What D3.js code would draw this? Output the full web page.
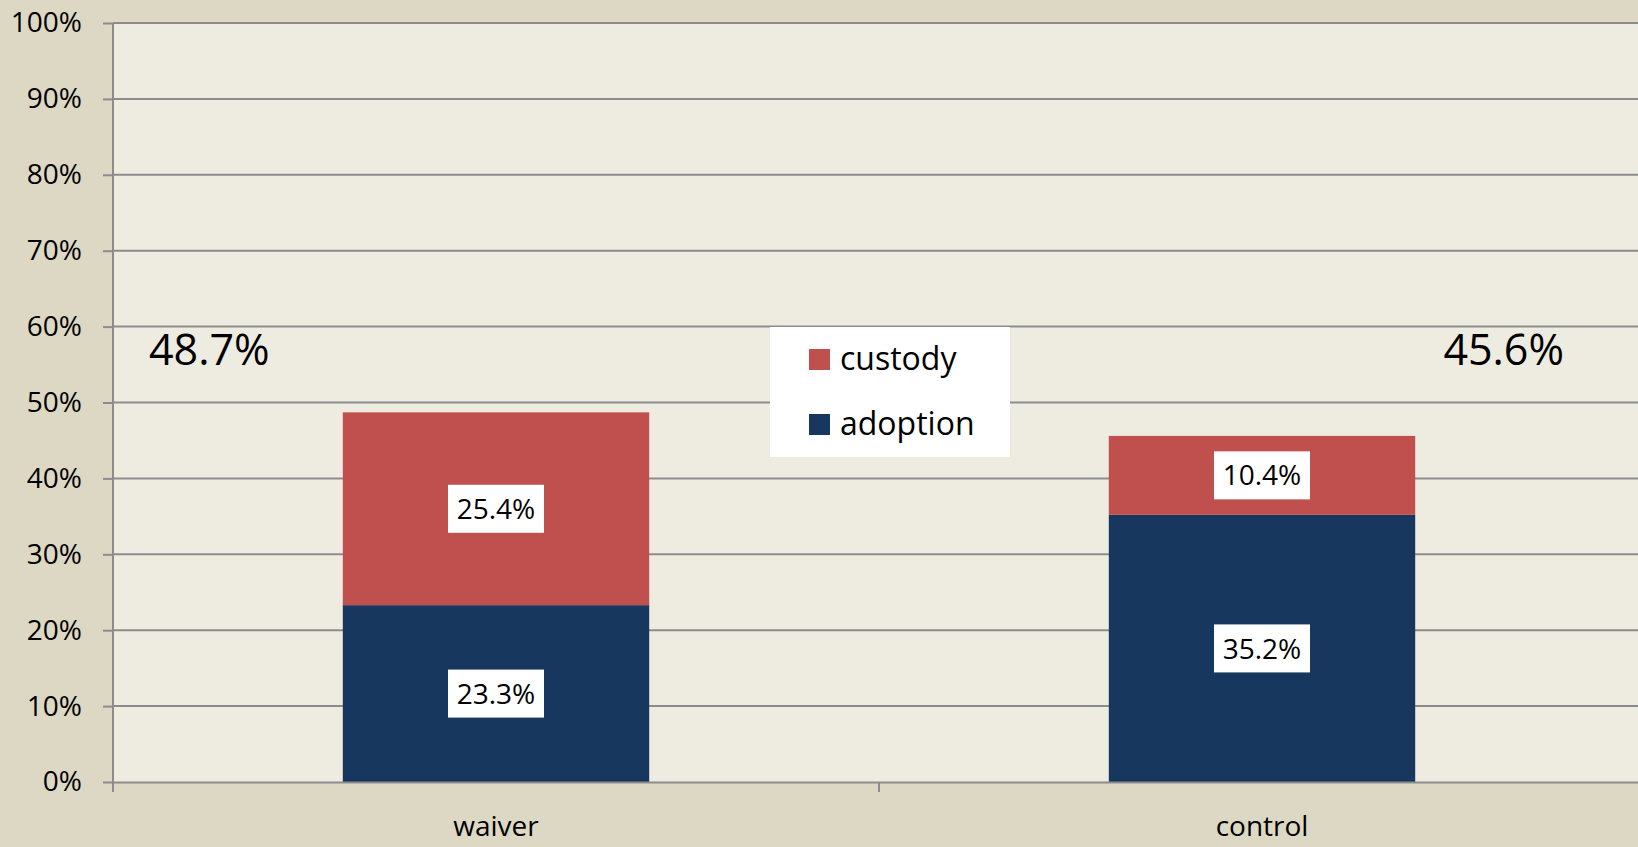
<!DOCTYPE html>
<html>
<head>
<meta charset="utf-8">
<script src="https://cdn.jsdelivr.net/npm/d3@7"></script>
<style>
  html, body { margin: 0; padding: 0; background: #ddd8c3; overflow: hidden; }
  svg { display: block; font-family: "Open Sans", sans-serif; }
</style>
</head>
<body>
<div id="chart"></div>
<script>
// values
const groups = ["waiver", "control"];
const adoption = [23.3, 35.2];
const custody = [25.4, 10.4];
const totals = ["48.7%", "45.6%"];
const yTicks = [0, 10, 20, 30, 40, 50, 60, 70, 80, 90, 100];

const width = 1638, height = 847,
    margin = ({ top: 23, right: -7, bottom: 65, left: 113 });

const svg = d3.select("#chart")
    .append("svg")
    .attr("width", width)
    .attr("height", height);

const x = d3.scaleBand()
    .domain(groups)
    .range([margin.left, width - margin.right])
    .paddingInner(0.6)
    .paddingOuter(0.3);

const y = d3.scaleLinear()
    .domain([0, 100])
    .range([height - margin.bottom, margin.top]);

// plot area
svg.append("rect")
    .attr("x", margin.left)
    .attr("y", margin.top)
    .attr("width", width - margin.left - margin.right)
    .attr("height", y(0) - margin.top)
    .attr("fill", "#eeece1");

// gridlines
svg.append("g")
    .selectAll("line")
    .data(yTicks.slice(1))
    .join("line")
    .attr("x1", margin.left)
    .attr("x2", width)
    .attr("y1", d => y(d))
    .attr("y2", d => y(d))
    .attr("stroke", "#8c8c8c")
    .attr("stroke-width", 2);

// stacks
const rows = groups.map((g, i) => ({ group: g, adoption: adoption[i], custody: custody[i] }));
const series = d3.stack().keys(["adoption", "custody"])(rows);
const color = d3.scaleOrdinal()
    .domain(["adoption", "custody"])
    .range(["#17375e", "#c0504d"]);

svg.append("g")
    .selectAll("g")
    .data(series)
    .join("g")
    .attr("fill", d => color(d.key))
    .selectAll("rect")
    .data(d => d)
    .join("rect")
    .attr("x", d => x(d.data.group))
    .attr("width", x.bandwidth())
    .attr("y", d => y(d[1]))
    .attr("height", d => y(d[0]) - y(d[1]));

// data labels with white boxes
const labels = svg.append("g")
    .selectAll("g")
    .data(series.flatMap(s => s.map(d => ({ key: s.key, d }))))
    .join("g")
    .attr("transform", o => `translate(${x(o.d.data.group) + x.bandwidth() / 2}, ${y((o.d[0] + o.d[1]) / 2)})`);

labels.append("rect")
    .attr("x", -48)
    .attr("y", -24)
    .attr("width", 96)
    .attr("height", 48)
    .attr("fill", "white");

labels.append("text")
    .text(o => (o.d[1] - o.d[0]).toFixed(1) + "%")
    .attr("text-anchor", "middle")
    .attr("dy", "0.36em")
    .attr("font-size", 28)
    .attr("fill", "black");

// totals
svg.append("g")
    .selectAll("text")
    .data(groups)
    .join("text")
    .text((g, i) => totals[i])
    .attr("x", (g, i) => i === 0 ? 149 : 1564)
    .attr("text-anchor", (g, i) => i === 0 ? "start" : "end")
    .attr("y", 350)
    .attr("dy", "0.36em")
    .attr("font-size", 43)
    .attr("fill", "black");

// y axis
const yAxis = g => g
    .attr("transform", `translate(${margin.left}, 0)`)
    .call(d3.axisLeft(y).tickValues(yTicks).tickFormat(d => d + "%").tickSize(10).tickPadding(21))
    .call(g => g.select(".domain").remove())
    .call(g => g.selectAll(".tick line").attr("stroke", "#8c8c8c").attr("stroke-width", 2))
    .call(g => g.selectAll("text").attr("font-size", 28).attr("fill", "black"));

svg.append("g").call(yAxis).attr("font-family", null);

svg.append("line")
    .attr("x1", margin.left).attr("x2", margin.left)
    .attr("y1", margin.top).attr("y2", y(0) + 10)
    .attr("stroke", "#8c8c8c")
    .attr("stroke-width", 2);

// x axis
const xAxis = g => g
    .attr("transform", `translate(0, ${y(0)})`)
    .call(d3.axisBottom(x).tickSize(0).tickPadding(34))
    .call(g => g.select(".domain").attr("stroke", "#8c8c8c").attr("stroke-width", 2))
    .call(g => g.selectAll("text").attr("font-size", 28).attr("fill", "black"));

svg.append("g").call(xAxis).attr("font-family", null);

// category boundary ticks
svg.append("g")
    .selectAll("line")
    .data(groups.slice(1))
    .join("line")
    .attr("x1", d => x(d) - x.step() * x.paddingInner() / 2)
    .attr("x2", d => x(d) - x.step() * x.paddingInner() / 2)
    .attr("y1", y(0))
    .attr("y2", y(0) + 10)
    .attr("stroke", "#8c8c8c")
    .attr("stroke-width", 2);

// legend
const legend = svg.append("g").attr("transform", "translate(770, 327)");
legend.append("rect")
    .attr("width", 240)
    .attr("height", 130)
    .attr("fill", "white");

const legendKeys = ["custody", "adoption"];
const item = legend.selectAll("g")
    .data(legendKeys)
    .join("g")
    .attr("transform", (d, i) => `translate(39, ${22 + i * 65})`);

item.append("rect")
    .attr("width", 21)
    .attr("height", 21)
    .attr("fill", d => color(d));

item.append("text")
    .text(d => d)
    .attr("x", 31)
    .attr("y", 9)
    .attr("dy", "0.36em")
    .attr("font-size", 32)
    .attr("fill", "black");
</script>
</body>
</html>
